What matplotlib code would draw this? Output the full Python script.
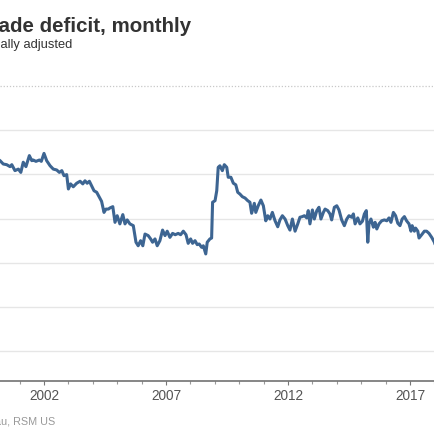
import matplotlib
matplotlib.use('Agg')
import matplotlib.pyplot as plt
from matplotlib.ticker import MultipleLocator

dpi = 100

# monthly goods and services balance, billions of dollars
dates = [
    2000.10, 2000.20, 2000.33, 2000.47, 2000.61, 2000.68, 2000.81, 2000.95,
    2001.05, 2001.15, 2001.26, 2001.40, 2001.50, 2001.56, 2001.67, 2001.81,
    2001.89, 2002.00, 2002.11, 2002.25, 2002.38, 2002.52, 2002.63, 2002.73,
    2002.82, 2002.93, 2003.00, 2003.09, 2003.20, 2003.34, 2003.48, 2003.59,
    2003.68, 2003.77, 2003.86, 2003.95, 2004.05, 2004.16, 2004.27, 2004.36,
    2004.46, 2004.54, 2004.64, 2004.70, 2004.82, 2004.91, 2005.00, 2005.11,
    2005.23, 2005.32, 2005.41, 2005.52, 2005.66, 2005.77, 2005.86, 2005.96,
    2006.05, 2006.14, 2006.27, 2006.37, 2006.45, 2006.55, 2006.64, 2006.75,
    2006.86, 2006.96, 2007.05, 2007.16, 2007.27, 2007.38, 2007.50, 2007.60,
    2007.71, 2007.82, 2007.91, 2008.01, 2008.09, 2008.19, 2008.28, 2008.36,
    2008.46, 2008.53, 2008.63, 2008.69, 2008.80, 2008.87, 2008.91, 2009.01,
    2009.08, 2009.14, 2009.21, 2009.31, 2009.39, 2009.49, 2009.55, 2009.66,
    2009.76, 2009.86, 2009.94, 2010.03, 2010.13, 2010.24, 2010.35, 2010.44,
    2010.51, 2010.62, 2010.68, 2010.78, 2010.89, 2010.99, 2011.09, 2011.17,
    2011.26, 2011.36, 2011.47, 2011.58, 2011.67, 2011.77, 2011.88, 2011.99,
    2012.08, 2012.18, 2012.29, 2012.40, 2012.49, 2012.59, 2012.67, 2012.77,
    2012.83, 2012.90, 2013.00, 2013.08, 2013.18, 2013.27, 2013.35, 2013.45,
    2013.52, 2013.63, 2013.72, 2013.79, 2013.90, 2014.00, 2014.09, 2014.20,
    2014.31, 2014.41, 2014.50, 2014.61, 2014.68, 2014.75, 2014.86, 2014.95,
    2015.05, 2015.13, 2015.21, 2015.27, 2015.32, 2015.40, 2015.50, 2015.57,
    2015.64, 2015.73, 2015.84, 2015.95, 2016.05, 2016.14, 2016.22, 2016.32,
    2016.41, 2016.50, 2016.59, 2016.68, 2016.77, 2016.86, 2016.96, 2017.04,
    2017.09, 2017.18, 2017.23, 2017.32, 2017.37, 2017.48, 2017.59, 2017.68,
    2017.78, 2017.89, 2018.00, 2018.05,
]
balance = [
    -33.0, -33.8, -35.3, -35.6, -36.5, -35.6, -38.3, -37.6,
    -39.1, -34.5, -36.5, -31.5, -33.8, -33.5, -34.1, -33.5,
    -34.1, -30.5, -33.8, -36.1, -37.6, -38.0, -39.1, -38.3,
    -40.6, -40.1, -46.6, -44.3, -45.6, -44.0, -43.1, -44.3,
    -42.9, -44.0, -43.1, -45.1, -47.4, -48.1, -50.4, -52.2,
    -57.2, -55.7, -55.7, -55.2, -54.6, -61.7, -58.7, -62.4,
    -58.2, -62.4, -60.6, -62.4, -63.2, -70.7, -72.3, -70.0,
    -72.3, -67.0, -67.7, -69.2, -70.7, -69.2, -72.3, -70.0,
    -65.2, -67.7, -65.7, -68.5, -66.7, -67.3, -66.7, -67.3,
    -65.7, -67.3, -71.2, -69.2, -71.2, -70.0, -71.8, -71.5,
    -73.0, -72.3, -76.0, -70.7, -69.2, -68.8, -52.6, -51.9,
    -47.4, -36.8, -36.1, -38.3, -35.6, -36.8, -41.3, -41.3,
    -44.0, -44.7, -48.1, -48.9, -50.1, -50.7, -51.9, -52.6,
    -57.6, -53.1, -57.2, -54.2, -51.6, -54.2, -61.0, -58.7,
    -60.2, -57.2, -61.0, -63.7, -60.6, -58.7, -60.2, -63.2,
    -65.2, -60.2, -65.7, -62.4, -59.4, -59.1, -58.7, -59.7,
    -56.4, -62.4, -56.1, -60.2, -56.4, -54.9, -60.2, -57.2,
    -55.7, -56.4, -57.9, -60.6, -54.9, -54.2, -56.1, -60.6,
    -63.2, -60.2, -58.7, -59.4, -57.9, -62.4, -59.7, -62.4,
    -61.2, -57.9, -56.4, -70.7, -62.4, -60.2, -63.9, -61.7,
    -64.7, -62.4, -61.0, -60.6, -61.0, -59.7, -61.7, -57.2,
    -58.7, -62.1, -63.2, -60.2, -59.1, -61.0, -62.4, -65.7,
    -63.2, -65.7, -64.3, -65.7, -68.8, -67.3, -65.7, -65.7,
    -66.7, -68.5, -70.7, -72.5,
]
year_ticks = [2002, 2007, 2012, 2017]
grid_values = [-20, -40, -60, -80, -100, -120]

title = 'U.S. trade deficit, monthly'
subtitle = 'Billions of dollars, seasonally adjusted'
source = 'Source: U.S. Census Bureau, RSM US'

plt.rcParams['font.family'] = ['Liberation Sans', 'DejaVu Sans']

fig = plt.figure(figsize=(435 / dpi, 435 / dpi), dpi=dpi)
fig.patch.set_facecolor('white')

# plot area: top at 87px, bottom at 382px, spans the full width (chart is cropped)
ax = fig.add_axes([0.0, 1 - 382 / 435, 1.0, (382 - 87) / 435])
ax.set_xlim(2000.197, 2018.025)
ax.set_ylim(-133.5, 0)

# gridlines
for g in grid_values:
    ax.axhline(g, color='#e6e6e6', lw=1.0, zorder=1)
ax.axhline(0, color='#c8c8c8', lw=0.9, ls=(0, (1, 1.5)), zorder=1, clip_on=False)

ax.plot(dates, balance, color='#3d6592', lw=2.2, solid_joinstyle='round',
        solid_capstyle='round', zorder=3)

for side in ['left', 'right', 'top']:
    ax.spines[side].set_visible(False)
ax.spines['bottom'].set_color('#666666')
ax.spines['bottom'].set_linewidth(1.1)

ax.set_yticks([])
ax.set_xticks(year_ticks)
ax.set_xticklabels([str(y) for y in year_ticks])
ax.xaxis.set_minor_locator(MultipleLocator(1))
ax.tick_params(axis='x', which='major', length=3.2, width=0.8, color='#777777',
               labelsize=9.8, labelcolor='#555555', pad=1.5)
ax.tick_params(axis='x', which='minor', length=2.5, width=0.8, color='#999999')

# texts, anchored at their right end because the left side is cut off
fig.text(191 / 435, 1 - 32.3 / 435, title, ha='right', va='baseline',
         fontsize=14.8, fontweight='bold', color='#333333')
fig.text(72 / 435, 1 - 48.3 / 435, subtitle, ha='right', va='baseline',
         fontsize=9.3, color='#333333')
fig.text(55 / 435, 1 - 425 / 435, source, ha='right', va='baseline',
         fontsize=7.8, color='#999999')

fig.savefig('out.png', dpi=dpi, facecolor='white')
